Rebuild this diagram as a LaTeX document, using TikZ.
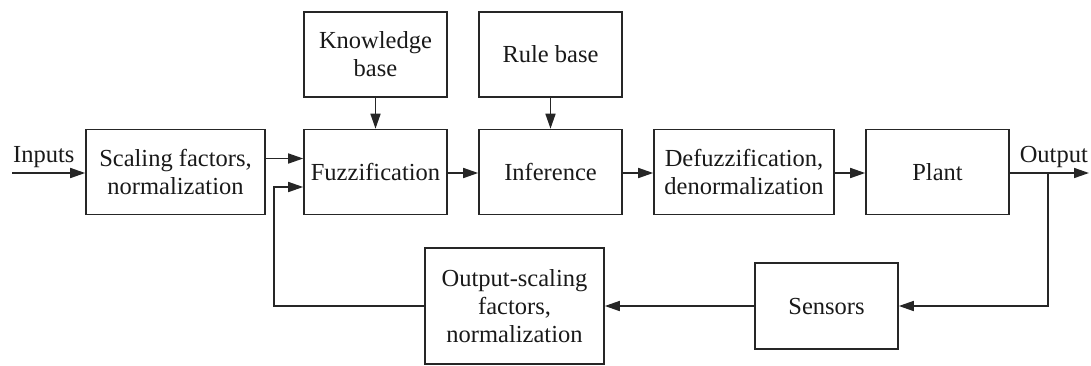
\documentclass[tikz,border=0pt]{standalone}
\usepackage{fontspec}
\setmainfont{Liberation Serif}
\usetikzlibrary{arrows.meta}
\begin{document}
\begin{tikzpicture}[x=1pt,y=-1pt,
  blk/.style={draw=black!85, line width=1.6pt, inner sep=0pt, align=center,
    font=\fontsize{24.5}{28}\selectfont, text=black!90},
  lbl/.style={inner sep=0pt, font=\fontsize{24.5}{28}\selectfont, text=black!90},
  arr/.style={draw=black!85, line width=1.6pt,
    -{Triangle[length=15pt,width=10pt]}}]
\useasboundingbox (0,0) rectangle (1091,365);

% forward path
\node[blk, minimum width=179pt, minimum height=85pt] (scal) at (175.5,172)
  {Scaling factors,\\normalization};
\node[blk, minimum width=143pt, minimum height=85pt] (fuzz) at (375.5,172)
  {Fuzzification};
\node[blk, minimum width=143pt, minimum height=85pt] (kb) at (375.5,54.5)
  {Knowledge\\base};
\node[blk, minimum width=143pt, minimum height=85pt] (inf) at (550.5,172)
  {Inference};
\node[blk, minimum width=143pt, minimum height=85pt] (rb) at (550.5,54.5)
  {Rule base};
\node[blk, minimum width=180pt, minimum height=85pt] (defz) at (744,172)
  {Defuzzification,\\denormalization};
\node[blk, minimum width=143pt, minimum height=85pt] (plant) at (937.5,172)
  {Plant};

% feedback path
\node[blk, minimum width=143pt, minimum height=86pt] (sens) at (826.5,306)
  {Sensors};
\node[blk, minimum width=179pt, minimum height=116pt] (oscal) at (514.5,306)
  {Output-scaling\\factors,\\normalization};

% signal labels
\node[lbl, anchor=base west] (inlbl) at (13,162) {Inputs};
\node[lbl, anchor=base east] (outlbl) at (1088,162) {Output};

% connection points
\coordinate (inL) at (12,173);
\coordinate (outR) at (1089,173);
\coordinate (tap) at (1048,173);
\coordinate (fbx) at (274,0);
\coordinate (fin1) at ([yshift=13.5pt]fuzz.west);
\coordinate (fin2) at ([yshift=-15pt]fuzz.west);

% forward connectors
\draw[arr] (inL) -- (inL -| scal.west);
\draw[arr] (scal.east |- fin1) -- (fin1);
\draw[arr] (fuzz.east |- inL) -- (inf.west |- inL);
\draw[arr] (inf.east |- inL) -- (defz.west |- inL);
\draw[arr] (defz.east |- inL) -- (plant.west |- inL);
\draw[arr] (plant.east |- inL) -- (outR);
\draw[arr] (kb) -- (fuzz);
\draw[arr] (rb) -- (inf);

% feedback connectors
\draw[arr] (tap) |- (sens.east);
\draw[arr] (sens.west) -- (oscal.east);
\draw[arr] (oscal.west) -- (oscal.west -| fbx) |- (fin2);
\end{tikzpicture}
\end{document}
